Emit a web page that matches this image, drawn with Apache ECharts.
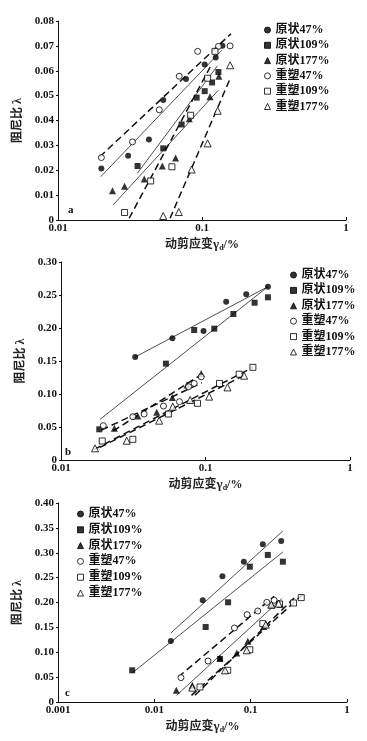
<!DOCTYPE html>
<html><head><meta charset="utf-8">
<script src="https://cdn.jsdelivr.net/npm/echarts@6/dist/echarts.min.js"></script>
<style>html,body{margin:0;padding:0;background:#fff}#c{width:367px;height:741px}</style>
</head><body><div id="c"></div>
<script>
// ---------- series names ----------
const names = ['原状47%','原状109%','原状177%','重塑47%','重塑109%','重塑177%'];
const keys = ['yz47','yz109','yz177','cs47','cs109','cs177'];

// ---------- tick labels ----------
const xTicksA = [0.01, 0.1, 1];
const xTicksB = [0.01, 0.1, 1];
const xTicksC = [0.001, 0.01, 0.1, 1];
const yTicksA = [0, 0.01, 0.02, 0.03, 0.04, 0.05, 0.06, 0.07, 0.08];
const yTicksB = [0, 0.05, 0.10, 0.15, 0.20, 0.25, 0.30];
const yTicksC = [0, 0.05, 0.10, 0.15, 0.20, 0.25, 0.30, 0.35, 0.40];

// ---------- panel a data ----------
const xA_yz47 = [0.020,0.0307,0.0428,0.0538,0.0774,0.1044,0.1245,0.1386];
const yA_yz47 = [0.0207,0.0258,0.0324,0.0482,0.0567,0.0625,0.0653,0.0701];
const xA_yz109 = [0.0357,0.0538,0.0722,0.0918,0.1044,0.1175,0.130];
const yA_yz109 = [0.0217,0.0288,0.0384,0.0492,0.0518,0.0553,0.0595];
const xA_yz177 = [0.0239,0.029,0.0397,0.053,0.0656,0.0816,0.1137,0.131];
const yA_yz177 = [0.0118,0.0136,0.0165,0.0217,0.0249,0.0407,0.0495,0.0578];
const xA_cs47 = [0.020,0.0329,0.0505,0.0695,0.0933,0.130,0.1567];
const yA_cs47 = [0.0251,0.0314,0.0443,0.0578,0.0678,0.0698,0.070];
const xA_cs109 = [0.029,0.044,0.0618,0.0834,0.1094,0.123];
const yA_cs109 = [0.003,0.0157,0.0214,0.0421,0.057,0.0678];
const xA_cs177 = [0.0538,0.069,0.0847,0.1094,0.1285,0.1567];
const yA_cs177 = [0.0016,0.0032,0.0203,0.0308,0.0439,0.0622];
// fit lines a: [x0,y0],[x1,y1]
const fitA_yz47 = [[0.0198,0.0174],[0.137,0.0682]];
const fitA_yz109 = [[0.0355,0.0187],[0.128,0.062]];
const fitA_yz177 = [[0.0241,0.006],[0.13,0.0522]];
const fitA_cs47 = [[0.0195,0.0254],[0.159,0.0749]];
const fitA_cs109 = [[0.0312,0.0007],[0.114,0.0615]];
const fitA_cs177 = [[0.060,0.0007],[0.157,0.0569]];

// ---------- panel b data ----------
const xB_yz47 = [0.0326,0.059,0.0969,0.139,0.1914,0.2705];
const yB_yz47 = [0.156,0.1844,0.1955,0.2398,0.251,0.2626];
const xB_yz109 = [0.0184,0.0532,0.0835,0.115,0.156,0.2187,0.2705];
const yB_yz109 = [0.0465,0.146,0.197,0.199,0.2212,0.2383,0.2465];
const xB_yz177 = [0.0234,0.034,0.046,0.059,0.0743,0.0934];
const yB_yz177 = [0.048,0.0667,0.0722,0.0947,0.1136,0.131];
const xB_cs47 = [0.0196,0.0314,0.0376,0.0512,0.066,0.0763,0.0835,0.0934];
const yB_cs47 = [0.052,0.0656,0.0697,0.0818,0.0884,0.111,0.116,0.126];
const xB_cs109 = [0.0193,0.0314,0.0554,0.088,0.125,0.171,0.2128];
const yB_cs109 = [0.0288,0.0313,0.0697,0.0859,0.116,0.130,0.1404];
const xB_cs177 = [0.0172,0.0285,0.0478,0.0594,0.0783,0.106,0.142,0.185];
const yB_cs177 = [0.0177,0.0292,0.0596,0.0808,0.0909,0.096,0.110,0.1277];
const fitB_yz47 = [[0.0326,0.156],[0.2705,0.2626]];
const fitB_yz109 = [[0.0186,0.0615],[0.2705,0.2626]];
const fitB_yz177 = [[0.0230,0.044],[0.0944,0.130]];
const fitB_cs47 = [[0.0191,0.0455],[0.0944,0.117]];
const fitB_cs109 = [[0.0170,0.0162],[0.2135,0.1405]];
const fitB_cs177 = [[0.0186,0.0192],[0.188,0.1288]];

// ---------- panel c data ----------
const xC_yz47 = [0.01486,0.0318,0.0509,0.0849,0.1337,0.2075];
const yC_yz47 = [0.1227,0.2044,0.2527,0.282,0.317,0.3237];
const xC_yz109 = [0.00589,0.0341,0.0481,0.0583,0.098,0.1507,0.216];
const yC_yz109 = [0.0637,0.1508,0.0865,0.2004,0.272,0.2956,0.282];
const xC_yz177 = [0.0169,0.0248,0.048,0.0717,0.0934,0.136,0.166,0.2027];
const yC_yz177 = [0.0235,0.0335,0.0885,0.0985,0.122,0.152,0.1944,0.1964];
const xC_cs47 = [0.0189,0.0361,0.0678,0.0918,0.1186,0.147,0.1754];
const yC_cs47 = [0.049,0.0824,0.1488,0.1756,0.183,0.2004,0.2044];
const xC_cs109 = [0.0298,0.0578,0.098,0.1337,0.1995,0.2787,0.335];
const yC_cs109 = [0.0302,0.0637,0.105,0.1575,0.197,0.199,0.2098];
const xC_cs177 = [0.0248,0.0542,0.091,0.1436,0.164,0.195];
const yC_cs177 = [0.0288,0.0637,0.1039,0.1555,0.1957,0.1977];
const fitC_yz47 = [[0.01486,0.1387],[0.216,0.3438]];
const fitC_yz109 = [[0.00589,0.0583],[0.216,0.3016]];
const fitC_yz177 = [[0.01702,0.0134],[0.2106,0.2078]];
const fitC_cs47 = [[0.01774,0.0503],[0.1754,0.2125]];
const fitC_cs109 = [[0.0243,0.0134],[0.356,0.218]];
const fitC_cs177 = [[0.0264,0.0134],[0.302,0.2145]];

const panelLetters = ['a','b','c'];

// ---------- assemble ----------
const D = {
  A:{yz47:[xA_yz47,yA_yz47,fitA_yz47],yz109:[xA_yz109,yA_yz109,fitA_yz109],yz177:[xA_yz177,yA_yz177,fitA_yz177],
     cs47:[xA_cs47,yA_cs47,fitA_cs47],cs109:[xA_cs109,yA_cs109,fitA_cs109],cs177:[xA_cs177,yA_cs177,fitA_cs177]},
  B:{yz47:[xB_yz47,yB_yz47,fitB_yz47],yz109:[xB_yz109,yB_yz109,fitB_yz109],yz177:[xB_yz177,yB_yz177,fitB_yz177],
     cs47:[xB_cs47,yB_cs47,fitB_cs47],cs109:[xB_cs109,yB_cs109,fitB_cs109],cs177:[xB_cs177,yB_cs177,fitB_cs177]},
  C:{yz47:[xC_yz47,yC_yz47,fitC_yz47],yz109:[xC_yz109,yC_yz109,fitC_yz109],yz177:[xC_yz177,yC_yz177,fitC_yz177],
     cs47:[xC_cs47,yC_cs47,fitC_cs47],cs109:[xC_cs109,yC_cs109,fitC_cs109],cs177:[xC_cs177,yC_cs177,fitC_cs177]}
};
const xT = {A:xTicksA,B:xTicksB,C:xTicksC};
const yT = {A:yTicksA,B:yTicksB,C:yTicksC};

const FONT = "'Liberation Serif','Noto Sans CJK SC',serif";
const symbols = {yz47:'circle',yz109:'rect',yz177:'triangle',cs47:'circle',cs109:'rect',cs177:'triangle'};
const solidFit = {yz47:true,yz109:true,yz177:true,cs47:false,cs109:false,cs177:false};

const layout = {
  A:{grid:{left:58,top:21,width:288,height:199}, legend:{left:264,top:24,itemGap:3.3}, letter:[68,205]},
  B:{grid:{left:61,top:262,width:289,height:198}, legend:{left:290,top:269,itemGap:3.4}, letter:[65,447]},
  C:{grid:{left:58,top:503,width:289,height:199}, legend:{left:77,top:508,itemGap:3.8}, letter:[65,688]}
};

const grids=[], xAxes=[], yAxes=[], series=[], legends=[], graphics=[];
['A','B','C'].forEach((p,i)=>{
  const L = layout[p];
  grids.push(Object.assign({containLabel:false}, L.grid));
  const xt = xT[p], yt = yT[p];
  xAxes.push({type:'log', logBase:10, gridIndex:i, min:xt[0], max:xt[xt.length-1],
    name:'动剪应变{g|γ}{s|d}/%', nameLocation:'middle', nameGap:18,
    nameTextStyle:{fontFamily:FONT,fontSize:12,fontWeight:'bold',color:'#222',
      rich:{g:{fontFamily:FONT,fontSize:13,fontWeight:'bold',color:'#222'},
            s:{fontFamily:FONT,fontSize:8,color:'#222',verticalAlign:'bottom',padding:[6,0,0,0]}}},
    axisLine:{lineStyle:{color:'#111',width:1}},
    axisTick:{inside:true,length:3,lineStyle:{color:'#111'}},
    minorTick:{show:false}, splitLine:{show:false},
    axisLabel:{margin:3,color:'#111',fontFamily:FONT,fontSize:11,fontWeight:'bold',
      formatter:v=>String(+(+v).toPrecision(3))}
  });
  yAxes.push({type:'value', gridIndex:i, min:yt[0], max:yt[yt.length-1], interval:+(yt[1]-yt[0]).toFixed(3),
    name:'阻尼比 λ', nameLocation:'middle', nameRotate:90, nameGap:26,
    nameTextStyle:{fontFamily:FONT,fontSize:12,fontWeight:'bold',color:'#222'},
    axisLine:{show:true,lineStyle:{color:'#111',width:1}},
    axisTick:{show:true,inside:false,length:2,lineStyle:{color:'#111'}},
    splitLine:{show:false},
    axisLabel:{margin:4,color:'#111',fontFamily:FONT,fontSize:11,fontWeight:'bold',
      formatter:v=>v===0?'0':v.toFixed(2)}
  });
  keys.forEach((k,j)=>{
    const [xs,ys,fit] = D[p][k];
    const open = k.startsWith('cs');
    series.push({type:'scatter', name:names[j], xAxisIndex:i, yAxisIndex:i, symbol:symbols[k],
      symbolSize: k.endsWith('177') ? 7 : 6, z:3,
      itemStyle: open ? {color:'#fff',borderColor:'#000',borderWidth:1} : {color:'#000',borderColor:'#000',borderWidth:0},
      data: xs.map((x,n)=>[x,ys[n]])});
    let solid = solidFit[k];
    if (p==='B' && k==='yz177') solid = false;
    series.push({type:'line', name:'fit'+p+k, xAxisIndex:i, yAxisIndex:i, symbol:'none', silent:true, z:2,
      lineStyle: solid ? {color:'#222',width:0.8,type:'solid'} : {color:'#111',width:1.5,type:[7,4]},
      data: fit.map(pt=>[pt[0],pt[1]])});
  });
  legends.push({data:names, orient:'vertical', left:L.legend.left, top:L.legend.top, itemGap:L.legend.itemGap,
    itemWidth:6, itemHeight:6, selectedMode:false, padding:0,
    itemStyle:{borderWidth:1},
    textStyle:{fontFamily:FONT,fontSize:12,fontWeight:'bold',color:'#111',lineHeight:12}});
  graphics.push({type:'text', left:L.letter[0], top:L.letter[1],
    style:{text:panelLetters[i], fontFamily:FONT, fontSize:11, fontWeight:'bold', fill:'#111'}});
});

const chart = echarts.init(document.getElementById('c'), null, {renderer:'canvas'});
chart.setOption({backgroundColor:'#fff', animation:false, grid:grids, xAxis:xAxes, yAxis:yAxes,
  series:series, legend:legends, graphic:graphics});
</script></body></html>
